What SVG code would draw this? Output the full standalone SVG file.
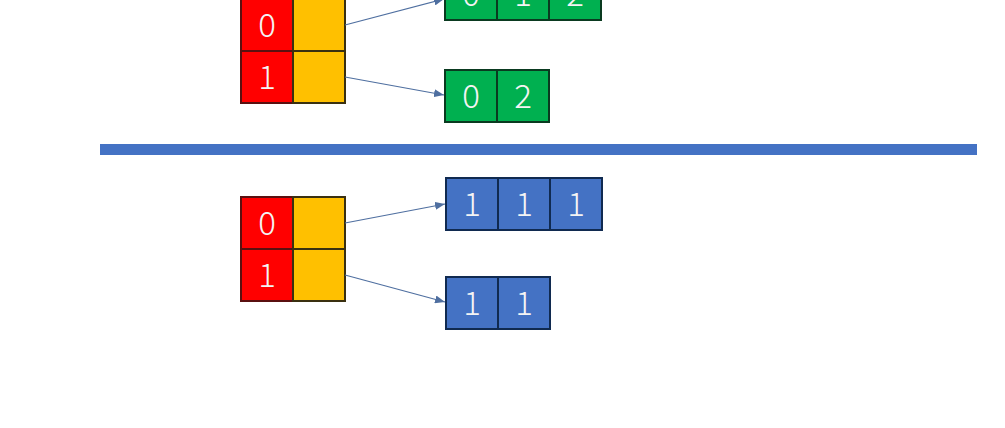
<svg xmlns="http://www.w3.org/2000/svg" width="1005" height="428" viewBox="0 0 1005 428">
<style>
.r{fill:#ff0000;stroke:#5a1010;stroke-width:2}
.y{fill:#ffc000;stroke:#3a3010;stroke-width:2}
.g{fill:#00b050;stroke:#0a3a20;stroke-width:2}
.b{fill:#4472c4;stroke:#102a50;stroke-width:2}
text{font-family:"Noto Sans CJK SC","Noto Sans",sans-serif;font-size:33px;font-weight:300;fill:#f4f4f4;text-anchor:middle}
.c line{stroke:#4f6fa0;stroke-width:1.2;marker-end:url(#a)}
</style>
<defs><marker id="a" markerWidth="10" markerHeight="8" refX="10" refY="4" orient="auto" markerUnits="userSpaceOnUse"><path d="M0,0L10,4L0,8z" fill="#4f6fa0"/></marker></defs>
<rect width="1005" height="428" fill="#fff"/>
<rect x="100" y="144" width="877" height="11" fill="#4472c4"/>
<g id="top-map">
<rect class="r" x="241" y="-1" width="52" height="52"/><rect class="y" x="293" y="-1" width="52" height="52"/>
<rect class="r" x="241" y="51" width="52" height="52"/><rect class="y" x="293" y="51" width="52" height="52"/>
<text x="267" y="37">0</text><text x="267" y="89">1</text>
</g>
<g id="top-list1">
<rect class="g" x="445" y="-32" width="52" height="52"/><rect class="g" x="497" y="-32" width="52" height="52"/><rect class="g" x="549" y="-32" width="52" height="52"/>
<text x="471" y="6">0</text><text x="523" y="6">1</text><text x="575" y="6">2</text>
</g>
<g id="top-list2">
<rect class="g" x="445" y="70" width="52" height="52"/><rect class="g" x="497" y="70" width="52" height="52"/>
<text x="471" y="108">0</text><text x="523" y="108">2</text>
</g>
<g id="bot-map">
<rect class="r" x="241" y="197" width="52" height="52"/><rect class="y" x="293" y="197" width="52" height="52"/>
<rect class="r" x="241" y="249" width="52" height="52"/><rect class="y" x="293" y="249" width="52" height="52"/>
<text x="267" y="235">0</text><text x="267" y="287">1</text>
</g>
<g id="bot-list1">
<rect class="b" x="446" y="178" width="52" height="52"/><rect class="b" x="498" y="178" width="52" height="52"/><rect class="b" x="550" y="178" width="52" height="52"/>
<text x="472" y="216">1</text><text x="524" y="216">1</text><text x="576" y="216">1</text>
</g>
<g id="bot-list2">
<rect class="b" x="446" y="277" width="52" height="52"/><rect class="b" x="498" y="277" width="52" height="52"/>
<text x="472" y="315">1</text><text x="524" y="315">1</text>
</g>
<g class="c" id="connectors">
<line x1="345" y1="25" x2="444" y2="-1"/>
<line x1="345" y1="77" x2="444" y2="95"/>
<line x1="345" y1="223" x2="445" y2="204"/>
<line x1="345" y1="275" x2="445" y2="302"/>
</g>
</svg>
